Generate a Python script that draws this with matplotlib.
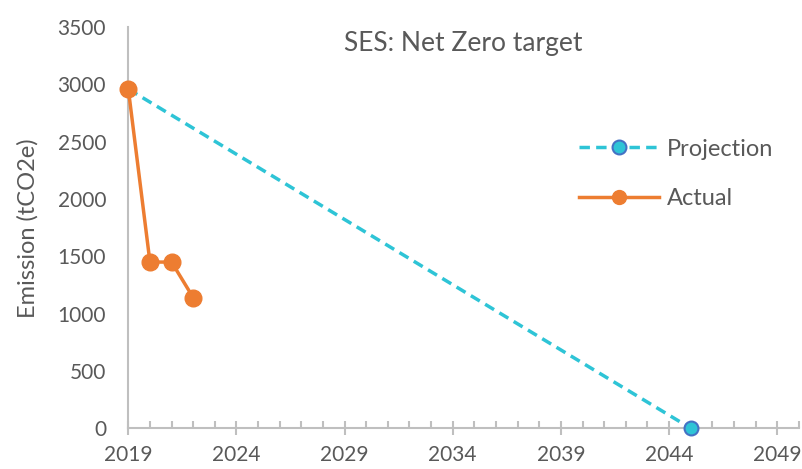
import numpy as np
import matplotlib.pyplot as plt
from matplotlib.ticker import MultipleLocator

# Data
proj_years = [2019, 2045]
proj_values = [2960, 0]
actual_years = [2019, 2020, 2021, 2022]
actual_values = [2960, 1450, 1450, 1140]

plt.rcParams['font.family'] = ['Lato', 'DejaVu Sans']
grey = '#595959'
axis_grey = '#BFBFBF'

fig = plt.figure(figsize=(8.02, 4.69), dpi=100)
ax = fig.add_axes([0.16, 0.087, 0.836, 0.855])

ax.plot(proj_years, proj_values, color='#2EC4D6', linestyle=(0, (3.0, 1.8)), linewidth=2.5,
        marker='o', markersize=10, markerfacecolor='#2EC4D6', markeredgecolor='#4472C4',
        markeredgewidth=1.5, label='Projection', zorder=3, clip_on=False)
ax.plot(actual_years, actual_values, color='#ED7D31', linewidth=2.5,
        marker='o', markersize=12, markerfacecolor='#ED7D31', markeredgecolor='#ED7D31',
        label='Actual', zorder=4, clip_on=False)

ax.set_xlim(2019, 2050)
ax.set_ylim(0, 3500)
ax.xaxis.set_major_locator(MultipleLocator(5, offset=4))
ax.xaxis.set_minor_locator(MultipleLocator(1))
ax.yaxis.set_major_locator(MultipleLocator(500))

for s in ['top', 'right']:
    ax.spines[s].set_visible(False)
for s in ['left', 'bottom']:
    ax.spines[s].set_color(axis_grey)
    ax.spines[s].set_linewidth(1.5)

ax.tick_params(axis='x', which='major', direction='inout', length=10, width=1.5,
               color=axis_grey, labelcolor=grey, labelsize=15, pad=7)
ax.tick_params(axis='x', which='minor', direction='in', length=5, width=1.5, color=axis_grey)
ax.tick_params(axis='y', length=0, labelcolor=grey, labelsize=15, pad=16)

ax.set_ylabel('Emission (tCO2e)', color=grey, fontsize=17, labelpad=14)
ax.text(0.5, 0.96, 'SES: Net Zero target', transform=ax.transAxes, ha='center', va='center',
        color=grey, fontsize=19)

leg = ax.legend(loc='upper left', bbox_to_anchor=(0.695, 0.75), bbox_transform=fig.transFigure,
                frameon=False, fontsize=17, labelcolor=grey, handlelength=3.4,
                labelspacing=1.2, handletextpad=0.35)
for h in leg.legend_handles:
    h.set_markersize(10)

fig.savefig('out.png', dpi=100)
